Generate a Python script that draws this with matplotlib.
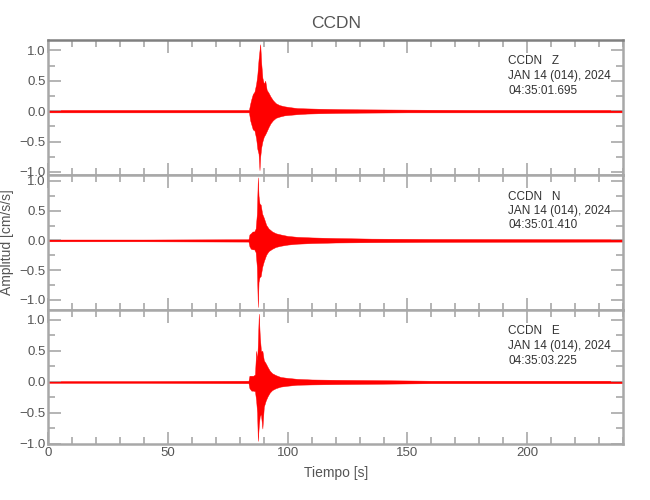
import numpy as np
import matplotlib
matplotlib.use("Agg")
from matplotlib import pyplot as plt
from matplotlib.ticker import MultipleLocator

plt.rcParams['font.family'] = ['Liberation Sans', 'DejaVu Sans']

station = "CCDN"
components = ["Z", "N", "E"]
date_label = "JAN 14 (014), 2024"
start_times = ["04:35:01.695", "04:35:01.410", "04:35:03.225"]

# envelope of each trace: time [s], upper, lower [cm/s/s]
t_z = [0, 40, 83.8, 84.3, 84.8, 85.4, 86.1, 86.8, 87.3, 87.8, 88.2, 88.5, 88.9,
       89.4, 90.0, 90.6, 91.2, 92.0, 92.8, 93.8, 95.0, 96.5, 98.5, 101, 104,
       108, 113, 120, 130, 150, 180, 240]
up_z = [0.02, 0.02, 0.02, 0.12, 0.2, 0.28, 0.32, 0.45, 0.6, 0.85, 1.0, 1.10, 0.8,
        0.55, 0.45, 0.5, 0.35, 0.3, 0.24, 0.18, 0.13, 0.1, 0.08, 0.065, 0.05,
        0.045, 0.04, 0.035, 0.03, 0.025, 0.02, 0.02]
lo_z = [-0.02, -0.02, -0.02, -0.15, -0.22, -0.3, -0.32, -0.45, -0.62, -0.7, -0.97,
        -0.75, -0.6, -0.5, -0.42, -0.38, -0.33, -0.26, -0.2, -0.15, -0.11, -0.09,
        -0.07, -0.06, -0.05, -0.04, -0.035, -0.03, -0.025, -0.02, -0.02, -0.02]

t_n = [0, 40, 83.6, 84.0, 84.6, 85.3, 86.0, 86.6, 87.1, 87.5, 87.8, 88.2, 88.7,
       89.3, 90.0, 91.0, 92.0, 93.5, 95.0, 97.0, 100, 104, 110, 120, 135, 160, 240]
up_n = [0.015, 0.015, 0.02, 0.1, 0.12, 0.15, 0.15, 0.2, 0.45, 1.06, 0.75, 0.62,
        0.6, 0.45, 0.38, 0.26, 0.2, 0.15, 0.12, 0.1, 0.075, 0.06, 0.05, 0.04,
        0.03, 0.025, 0.02]
lo_n = [-0.015, -0.015, -0.02, -0.1, -0.14, -0.15, -0.15, -0.2, -0.45, -1.12,
        -0.7, -0.62, -0.6, -0.45, -0.35, -0.24, -0.18, -0.14, -0.11, -0.09,
        -0.07, -0.055, -0.045, -0.035, -0.03, -0.025, -0.02]

t_e = [0, 40, 83.6, 84.0, 84.8, 85.6, 86.3, 86.8, 87.2, 87.5, 87.9, 88.3, 88.8,
       89.4, 90.0, 90.8, 91.6, 92.5, 93.5, 95.0, 97.0, 100, 104, 110, 120, 135,
       160, 240]
up_e = [0.015, 0.015, 0.02, 0.1, 0.1, 0.1, 0.12, 0.5, 0.35, 0.6, 1.10, 0.75, 0.5,
        0.5, 0.35, 0.3, 0.24, 0.18, 0.14, 0.11, 0.08, 0.065, 0.05, 0.04, 0.035,
        0.03, 0.02, 0.02]
lo_e = [-0.015, -0.015, -0.02, -0.1, -0.14, -0.14, -0.15, -0.3, -0.5, -0.95, -0.7,
        -0.55, -0.52, -0.75, -0.4, -0.3, -0.23, -0.17, -0.13, -0.1, -0.075,
        -0.06, -0.045, -0.04, -0.035, -0.03, -0.02, -0.02]

traces = [(t_z, up_z, lo_z), (t_n, up_n, lo_n), (t_e, up_e, lo_e)]
ylims = [(-1.05, 1.17), (-1.17, 1.10), (-1.0, 1.16)]

fig = plt.figure(figsize=(6.5, 5), dpi=100)
W, H = 650.0, 500.0
left, right = 48.3, 623.0
edges = [40, 175, 310, 444]

frame_col = '#a8a8a8'
txt_col = '#555555'

axes = []
for i in range(3):
    top, bot = edges[i], edges[i + 1]
    ax = fig.add_axes([left / W, 1 - bot / H, (right - left) / W, (bot - top) / H])
    t, up, lo = traces[i]
    ax.fill_between(t, lo, up, color='red', lw=0.3)
    ax.plot([t[0], t[-1]], [0, 0], color='red', lw=0.7)
    ax.set_xlim(0, 240)
    ax.set_ylim(*ylims[i])
    ax.xaxis.set_major_locator(MultipleLocator(50))
    ax.xaxis.set_minor_locator(MultipleLocator(10))
    ax.yaxis.set_major_locator(MultipleLocator(0.5))
    ax.yaxis.set_minor_locator(MultipleLocator(0.25))
    ax.tick_params(which='both', direction='in', top=True, right=True,
                   color=frame_col, width=1.2, labelcolor=txt_col, labelsize=9.5,
                   pad=2)
    ax.tick_params(which='major', length=9)
    ax.tick_params(which='minor', length=5)
    for s in ax.spines.values():
        s.set_color(frame_col)
        s.set_linewidth(1.8)
    if i == 0:
        ax.spines['top'].set_color('#808080')
    if i < 2:
        ax.tick_params(labelbottom=False)

    h = bot - top
    lines = ["%s   %s" % (station, components[i]), date_label, start_times[i]]
    for k, line in enumerate(lines):
        ax.text(0.80, 1 - (21.5 + 14.5 * k) / h, line, transform=ax.transAxes,
                ha='left', va='center', fontsize=8.5, color='#333333')
    axes.append(ax)

axes[0].set_title(station, fontsize=12.5, color=txt_col, pad=9)
axes[1].set_ylabel("Amplitud [cm/s/s]", fontsize=10, color=txt_col)
axes[1].yaxis.set_label_coords(-(48.3 - 14) / (right - left), 0.5)
axes[2].set_xlabel("Tiempo [s]", fontsize=10, color=txt_col, labelpad=5)

fig.savefig("out.png", dpi=100)
